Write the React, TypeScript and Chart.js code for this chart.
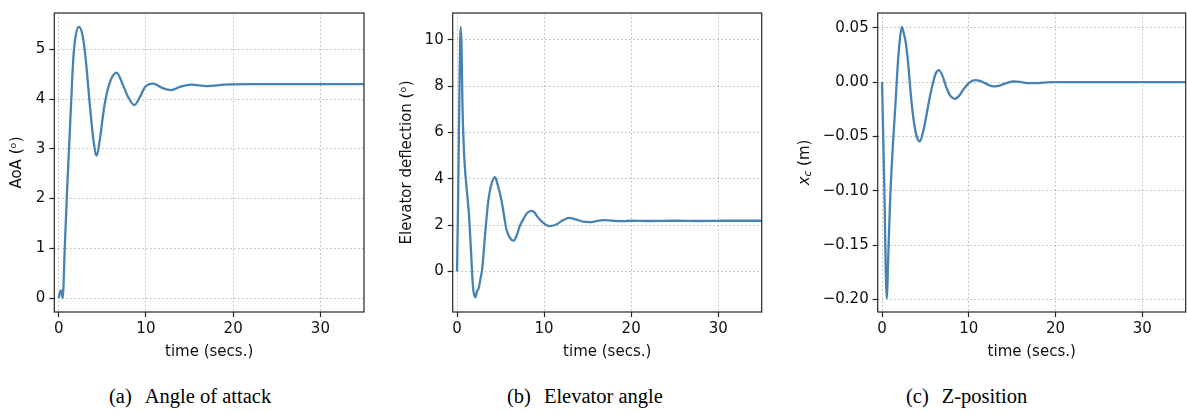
import React, { useEffect, useRef } from "react";
import { Chart, registerables } from "chart.js";

Chart.register(...registerables);

// ---------- data ----------
const timeTicks = [0, 10, 20, 30];

const aoaTime = [0, 0.1, 0.23, 0.3, 0.46, 0.7, 0.95, 1.2, 1.41, 1.68, 1.95, 2.33, 2.75, 3.09, 3.59, 3.97, 4.35, 4.73, 5.23, 5.8, 6.64, 7.33, 7.97, 8.66, 9.31, 9.89, 10.84, 11.8, 12.86, 14.0, 15.2, 17.0, 19.0, 22.0, 35.0];
const aoaValues = [0, 0.08, 0.15, 0.15, 0.0, 1.0, 2.1, 3.05, 3.85, 4.82, 5.27, 5.45, 5.27, 4.82, 3.85, 3.2, 2.86, 3.2, 3.85, 4.3, 4.53, 4.3, 4.04, 3.88, 4.04, 4.24, 4.31, 4.23, 4.18, 4.25, 4.29, 4.26, 4.29, 4.3, 4.3];
const aoaTicks = [0, 1, 2, 3, 4, 5];

const elevTime = [0, 0.1, 0.2, 0.3, 0.42, 0.52, 0.62, 0.75, 0.88, 1.1, 1.26, 1.38, 1.6, 1.84, 2.1, 2.3, 2.5, 2.7, 2.9, 3.2, 3.56, 3.9, 4.36, 4.7, 5.1, 5.4, 5.67, 6.0, 6.5, 6.9, 7.2, 7.6, 8.0, 8.54, 8.9, 9.2, 9.9, 10.6, 11.4, 12.2, 12.86, 13.7, 14.5, 15.2, 16.0, 16.8, 17.9, 19.0, 20.0, 22.0, 25.0, 28.0, 31.0, 35.0];
const elevValues = [0, 2.5, 5.5, 8.5, 10.56, 9.6, 7.2, 5.6, 4.6, 3.6, 2.94, 2.4, 0.9, -0.7, -1.12, -0.85, -0.7, -0.3, 0.14, 1.5, 2.95, 3.7, 4.07, 3.7, 3.08, 2.4, 1.82, 1.5, 1.33, 1.6, 1.96, 2.25, 2.5, 2.62, 2.55, 2.38, 2.1, 1.96, 2.03, 2.22, 2.31, 2.24, 2.15, 2.13, 2.17, 2.22, 2.19, 2.17, 2.19, 2.18, 2.19, 2.18, 2.19, 2.19];
const elevTicks = [0, 2, 4, 6, 8, 10];

const xcTime = [0, 0.27, 0.54, 0.72, 0.92, 1.1, 1.3, 1.55, 1.76, 2.0, 2.27, 2.5, 2.73, 3.03, 3.3, 3.6, 4.0, 4.37, 4.75, 5.14, 5.5, 5.9, 6.2, 6.56, 7.0, 7.44, 7.9, 8.4, 8.9, 9.36, 10.0, 10.7, 11.3, 11.85, 12.8, 13.4, 13.95, 14.5, 15.1, 16.0, 17.0, 18.0, 19.0, 20.0, 25.0, 30.0, 35.0];
const xcValues = [0, -0.1, -0.199, -0.16, -0.111, -0.08, -0.051, -0.02, 0.0095, 0.035, 0.0507, 0.045, 0.0365, 0.0155, -0.01, -0.0326, -0.05, -0.0546, -0.045, -0.0296, -0.014, 0.0, 0.008, 0.011, 0.005, -0.0055, -0.013, -0.0154, -0.0125, -0.007, -0.001, 0.0017, 0.001, -0.001, -0.004, -0.0035, -0.002, -0.0005, 0.0005, 0.0, -0.001, -0.001, -0.0003, 0, 0, 0, 0];
const xcTicks = [-0.2, -0.15, -0.1, -0.05, 0, 0.05];

// ---------- styles ----------
const LINE = "#4682b4";
const GRID = "#b8b8b8";
const AXIS = "#262626";
const TEXT = "#111111";
const FONT = { family: "'DejaVu Sans', sans-serif", size: 15 };

type Spec = {
  left: number;
  width: number;
  height: number;
  padTop: number;
  padRight: number;
  yAxisWidth: number;
  xAxisHeight: number;
  t: number[];
  v: number[];
  yMin: number;
  yMax: number;
  yTicks: number[];
  yTitle: string | null;
  fmt: (v: number) => string;
};

const framePlugin = {
  id: "frame",
  afterDraw(chart: any, _args: any, opts: any) {
    const { ctx, chartArea } = chart;
    ctx.save();
    ctx.setLineDash([]);
    ctx.strokeStyle = AXIS;
    ctx.lineWidth = 1.2;
    ctx.strokeRect(chartArea.left, chartArea.top, chartArea.right - chartArea.left, chartArea.bottom - chartArea.top);
    ctx.restore();
    if (opts && opts.xcTitle) {
      const cy = (chartArea.top + chartArea.bottom) / 2;
      ctx.save();
      ctx.translate(opts.titleX, cy);
      ctx.rotate(-Math.PI / 2);
      ctx.fillStyle = TEXT;
      ctx.textBaseline = "middle";
      ctx.textAlign = "left";
      const fMain = "italic 15px 'DejaVu Sans', sans-serif";
      const fSub = "italic 10.5px 'DejaVu Sans', sans-serif";
      const fNorm = "15px 'DejaVu Sans', sans-serif";
      ctx.font = fMain;
      const w1 = ctx.measureText("x").width;
      ctx.font = fSub;
      const w2 = ctx.measureText("c").width;
      ctx.font = fNorm;
      const w3 = ctx.measureText(" (m)").width;
      let x = -(w1 + w2 + w3) / 2;
      ctx.font = fMain;
      ctx.fillText("x", x, 0);
      x += w1;
      ctx.font = fSub;
      ctx.fillText("c", x, 3);
      x += w2;
      ctx.font = fNorm;
      ctx.fillText(" (m)", x, 0);
      ctx.restore();
    }
  },
};

function Panel({ spec, xcTitle }: { spec: Spec; xcTitle?: boolean }) {
  const ref = useRef<HTMLCanvasElement>(null);
  useEffect(() => {
    const chart = new Chart(ref.current as HTMLCanvasElement, {
      type: "line",
      data: {
        datasets: [
          {
            data: spec.t.map((t, i) => ({ x: t, y: spec.v[i] })),
            borderColor: LINE,
            borderWidth: 2.3,
            pointRadius: 0,
            fill: false,
            cubicInterpolationMode: "monotone",
          },
        ],
      },
      options: {
        responsive: false,
        animation: false,
        events: [],
        layout: { padding: { top: spec.padTop, right: spec.padRight, left: 0, bottom: 0 } },
        plugins: {
          legend: { display: false },
          tooltip: { enabled: false },
          frame: { xcTitle: !!xcTitle, titleX: 15 },
        } as any,
        scales: {
          x: {
            type: "linear",
            min: -0.5,
            max: 35,
            afterBuildTicks: (s: any) => {
              s.ticks = timeTicks.map((v) => ({ value: v }));
            },
            afterFit: (s: any) => {
              s.height = spec.xAxisHeight;
            },
            grid: { color: GRID, lineWidth: 1, tickColor: AXIS, tickLength: 5, tickWidth: 1.2 },
            border: { display: false, dash: [1.5, 2.5] },
            ticks: { font: FONT, color: TEXT, padding: 3, maxRotation: 0, callback: (v: any) => String(v) },
            title: { display: true, text: "time (secs.)", font: FONT, color: TEXT, padding: 0 },
          },
          y: {
            type: "linear",
            min: spec.yMin,
            max: spec.yMax,
            afterBuildTicks: (s: any) => {
              s.ticks = spec.yTicks.map((v) => ({ value: v }));
            },
            afterFit: (s: any) => {
              s.width = spec.yAxisWidth;
            },
            grid: { color: GRID, lineWidth: 1, tickColor: AXIS, tickLength: 5, tickWidth: 1.2 },
            border: { display: false, dash: [1.5, 2.5] },
            ticks: { font: FONT, color: TEXT, padding: 4, callback: (v: any) => spec.fmt(Number(v)) },
            title: {
              display: !!spec.yTitle,
              text: spec.yTitle || "",
              font: FONT,
              color: TEXT,
              padding: { top: 8, bottom: 0 },
            },
          },
        },
      } as any,
      plugins: [framePlugin],
    });
    return () => chart.destroy();
  }, []);
  return (
    <canvas
      ref={ref}
      width={spec.width}
      height={spec.height}
      style={{ position: "absolute", left: spec.left, top: 0, width: spec.width, height: spec.height }}
    />
  );
}

const intFmt = (v: number) => String(Math.round(v));
const xcFmt = (v: number) => {
  const s = v.toFixed(2);
  return s.startsWith("-") ? "\u2212" + s.slice(1) : s;
};

const panels: Spec[] = [
  {
    left: 0, width: 372, height: 361, padTop: 3.3, padRight: 8, yAxisWidth: 54.3, xAxisHeight: 49,
    t: aoaTime, v: aoaValues, yMin: -0.28, yMax: 5.73, yTicks: aoaTicks, yTitle: "AoA (\u1D52)", fmt: intFmt,
  },
  {
    left: 390, width: 380, height: 361, padTop: 4.7, padRight: 8.3, yAxisWidth: 62.7, xAxisHeight: 49,
    t: elevTime, v: elevValues, yMin: -1.75, yMax: 11.16, yTicks: elevTicks, yTitle: "Elevator deflection (\u1D52)", fmt: intFmt,
  },
  {
    left: 790, width: 397, height: 361, padTop: 6.7, padRight: 1.3, yAxisWidth: 87.7, xAxisHeight: 49,
    t: xcTime, v: xcValues, yMin: -0.2115, yMax: 0.0635, yTicks: xcTicks, yTitle: null, fmt: xcFmt,
  },
];

const captions = [
  { left: 109, tag: "(a)", text: "Angle of attack" },
  { left: 507, tag: "(b)", text: "Elevator angle" },
  { left: 906, tag: "(c)", text: "Z-position" },
];

export default function App() {
  return (
    <div style={{ position: "absolute", left: 0, top: 0, width: 1187, height: 414, background: "#fff", overflow: "hidden" }}>
      <Panel spec={panels[0]} />
      <Panel spec={panels[1]} />
      <Panel spec={panels[2]} xcTitle />
      {captions.map((c) => (
        <div
          key={c.tag}
          style={{
            position: "absolute",
            left: c.left,
            top: 386,
            fontFamily: "'Liberation Serif', 'Times New Roman', serif",
            fontSize: 20.5,
            lineHeight: "20px",
            color: "#000",
            whiteSpace: "nowrap",
          }}
        >
          <span>{c.tag}</span>
          <span style={{ marginLeft: 13 }}>{c.text}</span>
        </div>
      ))}
    </div>
  );
}
